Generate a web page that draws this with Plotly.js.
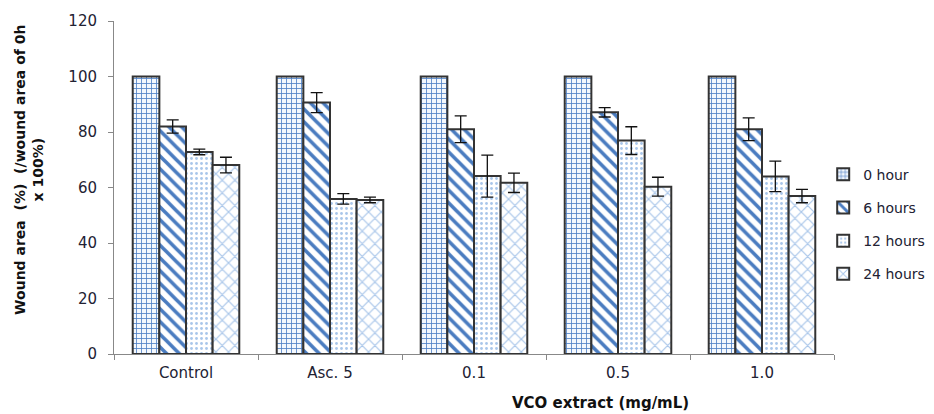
<!DOCTYPE html>
<html>
<head>
<meta charset="utf-8">
<script src="https://cdn.plot.ly/plotly-3.0.1.min.js"></script>
<style>html,body{margin:0;padding:0;background:#fff;}#chart{width:934px;height:414px;}</style>
</head>
<body>
<div id="chart"></div>
<script>
const categories = ["Control", "Asc. 5", "0.1", "0.5", "1.0"];
const seriesNames = ["0 hour", "6 hours", "12 hours", "24 hours"];
const hour0 = [100, 100, 100, 100, 100];
const hour0Err = [0, 0, 0, 0, 0];
const hour6 = [82, 90.6, 81, 87.1, 81];
const hour6Err = [2.4, 3.6, 4.8, 1.7, 4.1];
const hour12 = [72.8, 55.9, 64.1, 76.9, 64];
const hour12Err = [1.0, 1.9, 7.6, 5.0, 5.5];
const hour24 = [68.1, 55.5, 61.7, 60.3, 56.9];
const hour24Err = [2.8, 1.0, 3.5, 3.4, 2.4];
const yTicks = [0, 20, 40, 60, 80, 100, 120];

const values = [hour0, hour6, hour12, hour24];
const errs = [hour0Err, hour6Err, hour12Err, hour24Err];
const patterns = [
  {shape: "+", fgcolor: "#4f80c4", bgcolor: "#f4f8fd", size: 5, solidity: 0.3},
  {shape: "\\", fgcolor: "#4a7cc0", bgcolor: "#ffffff", size: 9, solidity: 0.4},
  {shape: ".", fgcolor: "#a9c6ea", bgcolor: "#ffffff", size: 5, solidity: 0.25},
  {shape: "x", fgcolor: "#a9c6ea", bgcolor: "#ffffff", size: 9, solidity: 0.25}
];

const traces = values.map((v, i) => ({
  type: "bar",
  name: seriesNames[i],
  x: categories,
  y: v,
  legendgroup: "g" + i,
  marker: {color: "#ffffff", pattern: patterns[i], line: {color: "#333333", width: 2}},
  error_y: {type: "data", array: errs[i], visible: i > 0, color: "#111111", thickness: 1.3, width: 6}
}));

const FONT = "DejaVu Sans, Verdana, sans-serif";
const layout = {
  width: 934, height: 414,
  margin: {l: 114, r: 100, t: 21, b: 60, autoexpand: false},
  paper_bgcolor: "#ffffff", plot_bgcolor: "#ffffff",
  font: {family: FONT, size: 15, color: "#222233"},
  barmode: "group", bargap: 0.26, bargroupgap: 0,
  showlegend: true,
  legend: {x: 0.985, xanchor: "left", y: 0.39, yanchor: "middle", tracegroupgap: 12,
           font: {size: 14, color: "#222233"}, bgcolor: "rgba(0,0,0,0)"},
  xaxis: {type: "category", showline: true, linecolor: "#888888", linewidth: 1,
          ticks: "outside", tickson: "boundaries", ticklen: 5, tickcolor: "#888888",
          showgrid: false, zeroline: false, tickfont: {size: 15}, ticklabelstandoff: 5},
  yaxis: {range: [0, 120], tickvals: yTicks, showline: true, linecolor: "#888888", linewidth: 1,
          ticks: "outside", ticklen: 5, tickcolor: "#888888", showgrid: false, zeroline: false,
          tickfont: {size: 15}, ticklabelstandoff: 8},
  annotations: [
    {text: "<b>Wound area  (%)  (/wound area of 0h<br>x 100%)</b>", xref: "paper", yref: "paper",
     x: -0.118, y: 0.553, xanchor: "center", yanchor: "middle", textangle: -90, showarrow: false,
     font: {family: FONT, size: 14, color: "#111111"}},
    {text: "<b>VCO extract (mg/mL)</b>", xref: "paper", yref: "paper",
     x: 0.675, y: -0.147, xanchor: "center", yanchor: "middle", showarrow: false,
     font: {family: FONT, size: 15, color: "#111111"}}
  ]
};

Plotly.newPlot("chart", traces, layout, {displayModeBar: false, staticPlot: true});
</script>
</body>
</html>
